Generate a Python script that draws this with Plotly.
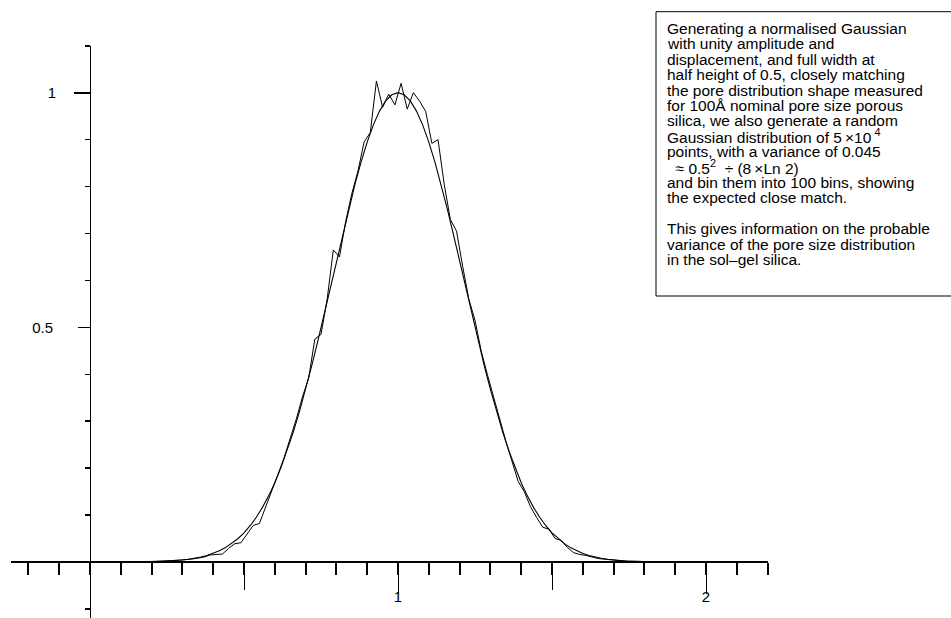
import numpy as np
import plotly.graph_objects as go

W, H = 951, 618

# ---------------- data ----------------
# histogram of 5e4 random points, 100 bins between 0 and 2 (normalised)
bin_lo, bin_hi, n_bins = 0.0, 2.0, 100
hist_values = [
    0, 0, 0, 0, 0, 0, 0, 0,
    0.0004, 0.0006, 0.0008, 0.0013, 0.0018, 0.0026, 0.0035, 0.0048, 0.0062, 0.0082,
    0.0105, 0.0150, 0.0160, 0.0170, 0.0290, 0.0390, 0.0410, 0.0600, 0.0780, 0.0820,
    0.1160, 0.1480, 0.1860, 0.2220, 0.2620, 0.3050, 0.3520, 0.3920, 0.4750, 0.4850,
    0.5600, 0.6650, 0.6500, 0.7250, 0.7850, 0.8330, 0.8950, 0.9150, 1.0250, 0.9690,
    0.9970, 0.9740, 1.0200, 0.9650, 1.0000, 0.9820, 0.9600, 0.8920, 0.9000, 0.8050,
    0.7300, 0.7050, 0.6300, 0.5600, 0.5150, 0.4500, 0.4000, 0.3520, 0.3000, 0.2580,
    0.2150, 0.1720, 0.1500, 0.1180, 0.0950, 0.0740, 0.0700, 0.0500, 0.0460, 0.0310,
    0.0200, 0.0160, 0.0140, 0.0100, 0.0075, 0.0060, 0.0045, 0.0033, 0.0022, 0.0017,
    0.0012, 0.0008, 0.0005, 0.0003,
    0, 0, 0, 0, 0, 0, 0, 0,
]

# normalised Gaussian (unity amplitude, centre 1, FWHM 0.5), sampled 0.2 .. 1.8
gauss_x_start, gauss_x_end, gauss_n = 0.2, 1.8, 81
gauss_values = [
    0.0008, 0.0012, 0.0016, 0.0023, 0.0032, 0.0043, 0.0059, 0.0079, 0.0106, 0.0140,
    0.0183, 0.0238, 0.0307, 0.0392, 0.0496, 0.0622, 0.0773, 0.0953, 0.1164, 0.1409,
    0.1690, 0.2010, 0.2369, 0.2768, 0.3205, 0.3679, 0.4185, 0.4718, 0.5273, 0.5840,
    0.6412, 0.6977, 0.7525, 0.8043, 0.8521, 0.8948, 0.9314, 0.9608, 0.9824, 0.9956,
    1.0000,
    0.9956, 0.9824, 0.9608, 0.9314, 0.8948, 0.8521, 0.8043, 0.7525, 0.6977, 0.6412,
    0.5840, 0.5273, 0.4718, 0.4185, 0.3679, 0.3205, 0.2768, 0.2369, 0.2010, 0.1690,
    0.1409, 0.1164, 0.0953, 0.0773, 0.0622, 0.0496, 0.0392, 0.0307, 0.0238, 0.0183,
    0.0140, 0.0106, 0.0079, 0.0059, 0.0043, 0.0032, 0.0023, 0.0016, 0.0012, 0.0008,
]

x_major_ticks = [1, 2]
x_major_labels = ["1", "2"]
x_half_ticks = [0.5, 1.5]
y_major_ticks = [1]
y_major_labels = ["1"]
y_half_ticks = [0.5]
y_half_labels = ["0.5"]

note_lines = [
    "Generating a normalised Gaussian",
    "with unity amplitude and",
    "displacement, and full width at",
    "half height of 0.5, closely matching",
    "the pore distribution shape measured",
    "for 100Å nominal pore size porous",
    "silica, we also generate a random",
    "Gaussian distribution of 5\u2009×10\u2009<sup>4</sup>",
    "points, with a variance of 0.045",
    "\u00a0\u00a0≈ 0.5<sup>2</sup>\u00a0 ÷ (8\u2009×Ln 2)",
    "and bin them into 100 bins, showing",
    "the expected close match.",
    "",
    "This gives information on the probable",
    "variance of the pore size distribution",
    "in the sol–gel silica.",
]

# ---------------- geometry (page pixels) ----------------
PX0, SX = 90.0, 308.0      # pixel of x=0, pixels per x unit
PY0, SY = 562.0, 469.3     # pixel (from top) of y=0, pixels per y unit
X_RANGE = [-0.255, 2.201]
Y_RANGE = [-(H - PY0) / SY, 1.1005]
xdom = [(PX0 + SX * X_RANGE[0]) / W, (PX0 + SX * X_RANGE[1]) / W]
ydom = [0.0, (H - (PY0 - SY * Y_RANGE[1])) / H]
x_axis_pos = (H - PY0) / H
y_axis_pos = PX0 / W

FONT = "Liberation Sans, Arial, Helvetica, sans-serif"

edges = np.linspace(bin_lo, bin_hi, n_bins + 1)
bin_centres = (edges[:-1] + edges[1:]) / 2
gauss_x = np.linspace(gauss_x_start, gauss_x_end, gauss_n)

fig = go.Figure()
fig.add_trace(go.Scatter(x=gauss_x, y=gauss_values, mode="lines",
                         line=dict(color="black", width=1.1),
                         hoverinfo="skip", showlegend=False))
fig.add_trace(go.Scatter(x=bin_centres, y=hist_values, mode="lines",
                         line=dict(color="black", width=1),
                         hoverinfo="skip", showlegend=False))
# empty trace so the overlay axes (extra tick lengths) are drawn
fig.add_trace(go.Scatter(x=[], y=[], xaxis="x2", yaxis="y2",
                         hoverinfo="skip", showlegend=False))

fig.update_layout(
    width=W, height=H,
    margin=dict(l=0, r=0, t=0, b=0, autoexpand=False),
    paper_bgcolor="white", plot_bgcolor="white",
    font=dict(family=FONT, size=15, color="black"),
    hovermode=False,
    xaxis=dict(
        domain=xdom, range=X_RANGE, anchor="free", position=x_axis_pos,
        automargin=False,
        showline=True, linecolor="black", linewidth=2,
        showgrid=False, zeroline=False,
        ticks="outside", tickvals=x_major_ticks, ticktext=x_major_labels,
        ticklen=31, tickwidth=1, tickcolor="black",
        tickfont=dict(family=FONT, size=15, color="black"),
        ticklabelstandoff=-10,
        minor=dict(ticks="outside", tick0=0, dtick=0.1, ticklen=12,
                   tickwidth=2, tickcolor="black", showgrid=False),
    ),
    xaxis2=dict(
        domain=xdom, range=X_RANGE, anchor="free", position=x_axis_pos,
        automargin=False,
        overlaying="x", showline=False, showgrid=False, zeroline=False,
        ticks="outside", tickvals=x_half_ticks, ticklen=27, tickwidth=1,
        tickcolor="black", showticklabels=False,
    ),
    yaxis=dict(
        domain=ydom, range=Y_RANGE, anchor="free", position=y_axis_pos,
        automargin=False,
        showline=True, linecolor="black", linewidth=1,
        showgrid=False, zeroline=False,
        ticks="outside", tickvals=y_major_ticks, ticktext=y_major_labels,
        ticklen=16, tickwidth=2, tickcolor="black",
        tickfont=dict(family=FONT, size=15, color="black"),
        ticklabelstandoff=15,
        minor=dict(ticks="outside", tick0=0, dtick=0.1, ticklen=5,
                   tickwidth=1.5, tickcolor="black", showgrid=False),
    ),
    yaxis2=dict(
        domain=ydom, range=Y_RANGE, anchor="free", position=y_axis_pos,
        automargin=False,
        overlaying="y", showline=False, showgrid=False, zeroline=False,
        ticks="outside", tickvals=y_half_ticks, ticktext=y_half_labels,
        ticklen=12, tickwidth=1.5, tickcolor="black",
        tickfont=dict(family=FONT, size=15, color="black"),
        ticklabelstandoff=22,
    ),
)

# text box frame (left, top and bottom edges; the right edge runs off the page)
box_left, box_top, box_bottom = 656, 11.7, 296
bx0 = box_left / W
by0, by1 = (H - box_bottom) / H, (H - box_top) / H
frame = dict(color="black", width=1)
fig.add_shape(type="line", xref="paper", yref="paper", x0=bx0, x1=bx0, y0=by0, y1=by1, line=frame)
fig.add_shape(type="line", xref="paper", yref="paper", x0=bx0, x1=1.0, y0=by1, y1=by1, line=frame)
fig.add_shape(type="line", xref="paper", yref="paper", x0=bx0, x1=1.0, y0=by0, y1=by0, line=frame)

text_left = 665
first_centre, spacing = 28.5, 15.4
for i, line in enumerate(note_lines):
    if not line:
        continue
    yc = first_centre + i * spacing
    fig.add_annotation(xref="paper", yref="paper", x=text_left / W, y=(H - yc) / H,
                       xanchor="left", yanchor="middle", showarrow=False,
                       text=line, align="left",
                       font=dict(family=FONT, size=15.5, color="black"))

fig.write_html(
    "out.html",
    config={"displayModeBar": False, "staticPlot": True},
    post_script=("document.body.style.margin='0';"
                 "document.body.style.overflow='hidden';"
                 "document.documentElement.style.overflow='hidden';"),
)
